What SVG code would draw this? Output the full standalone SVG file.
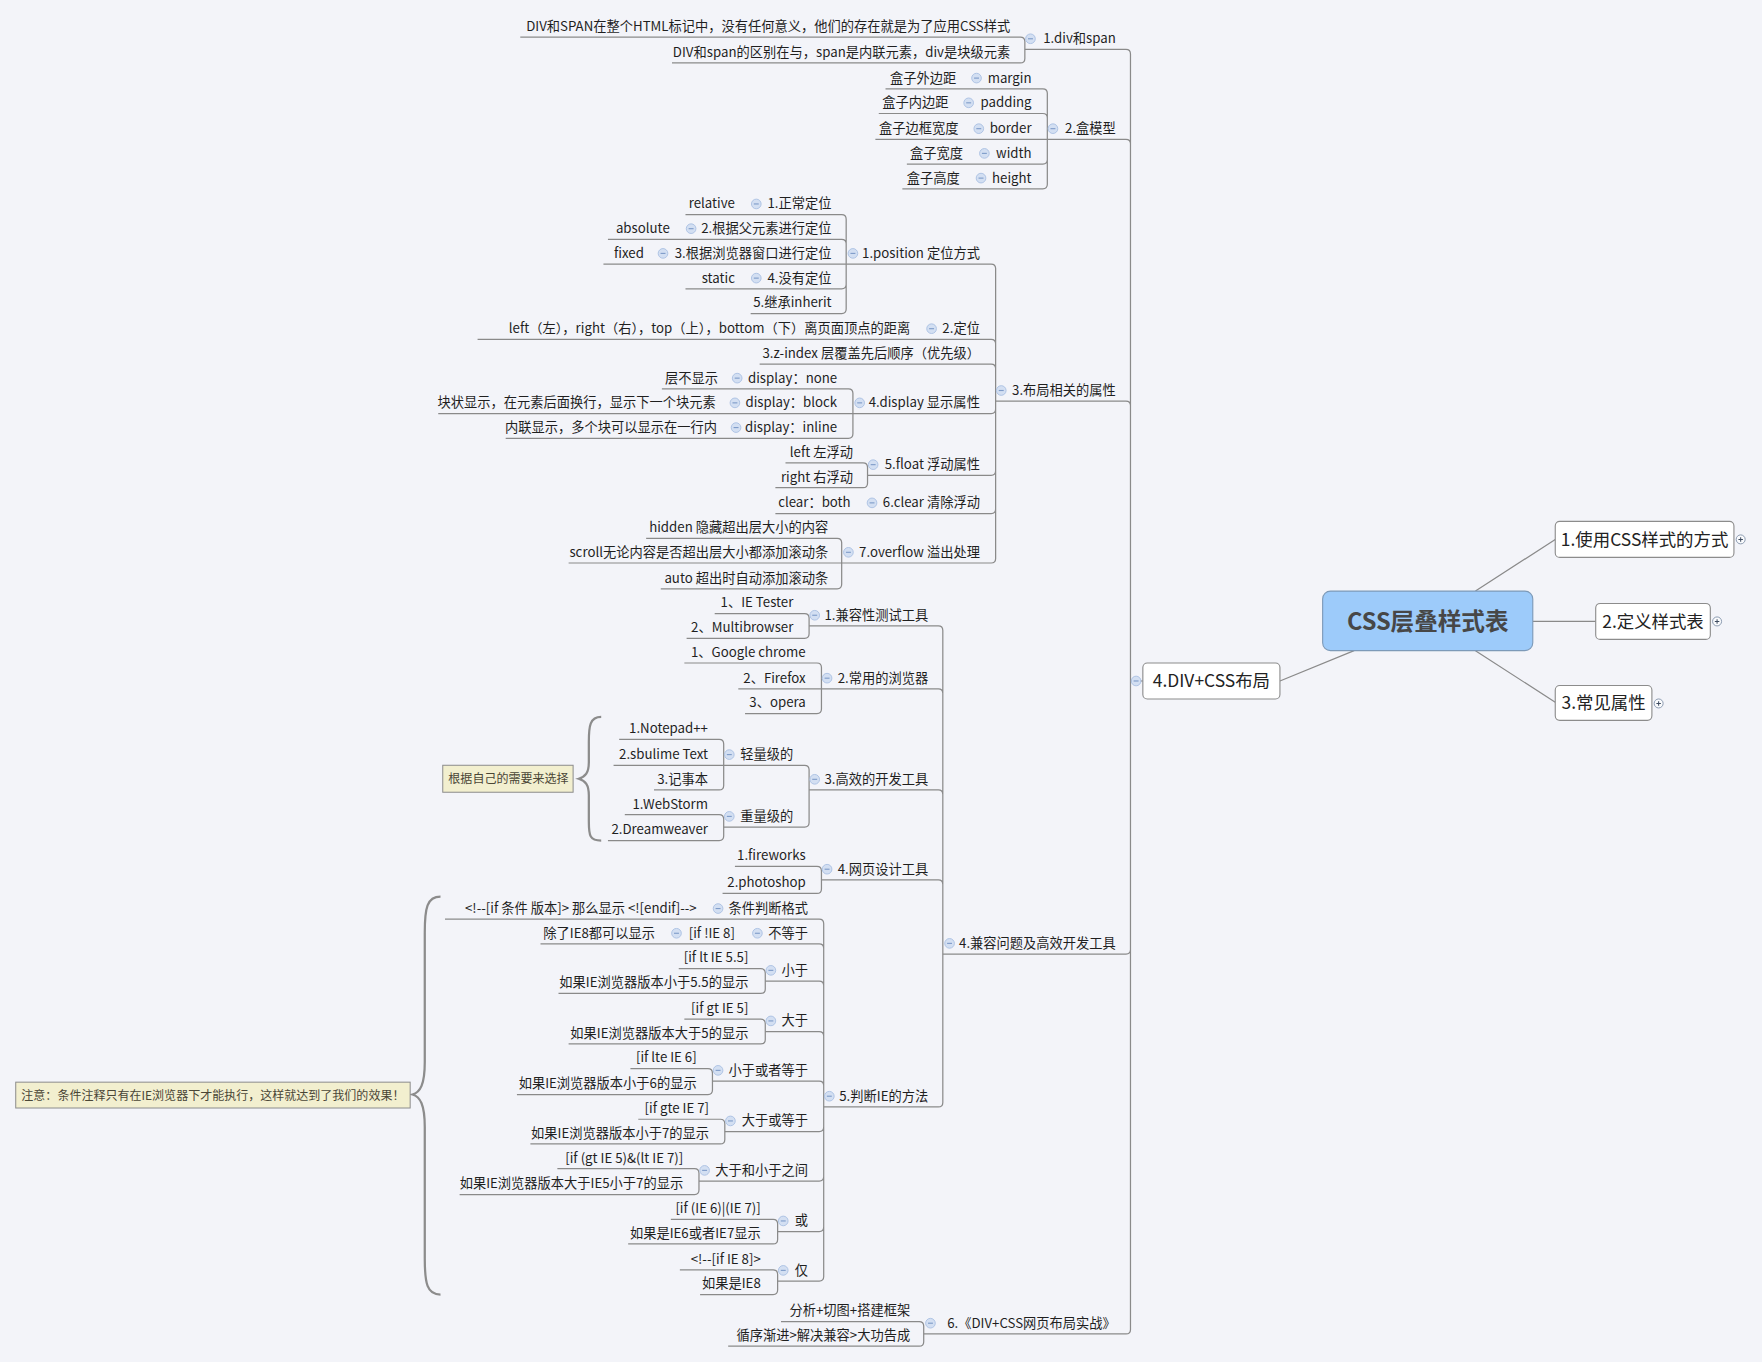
<svg xmlns="http://www.w3.org/2000/svg" xmlns:xlink="http://www.w3.org/1999/xlink" width="1762" height="1362" viewBox="0 0 1762 1362">
<style>
.c{fill:none;stroke:#8a8a8a;stroke-width:1.1}
.t{font-family:"Noto Sans CJK SC","Noto Sans",sans-serif;font-size:11.8px;fill:#1f1f1f;text-anchor:end}
.b{fill:#ffffff;stroke:#8c8c8c;stroke-width:1}
.bt{font-family:"Noto Sans CJK SC","Noto Sans",sans-serif;font-size:15.5px;fill:#222;text-anchor:middle}
.rt{font-family:"Noto Sans CJK SC","Noto Sans",sans-serif;font-size:21px;font-weight:bold;fill:#474747;text-anchor:middle}
.note{fill:#f2efcf;stroke:#8c8c8c;stroke-width:0.9}
.nt{font-family:"Noto Sans CJK SC","Noto Sans",sans-serif;font-size:10.7px;fill:#4a4636}
.brace{fill:none;stroke:#8c8c8c;stroke-width:2}
</style>
<defs>
<g id="mi"><circle r="4.3" fill="#d3dff2" stroke="#a9bfe2" stroke-width="0.8"/><path d="M-2.2 0H2.2" stroke="#7f9cc9" stroke-width="1"/></g>
<g id="pi"><circle r="4" fill="#fafbfd" stroke="#8091a8" stroke-width="0.8"/><path d="M-2 0H2M0 -2V2" stroke="#3d4b60" stroke-width="0.9"/></g>
</defs>
<rect width="1762" height="1362" fill="#f3f4f9"/>
<g transform="scale(1.12374)">
<g id="connectors">
<path class="c" d="M1313 526L1384 480M1364 553H1420M1313 579L1384 625M1205 579L1139 606"/>
<path class="c" d="M1006 606H1017"/>
<path class="c" d="M912 44H1002Q1006 44 1006 48V606M932 124H1002Q1006 124 1006 128V606M886 357H1002Q1006 357 1006 361V606M839 849H1002Q1006 849 1006 845V606M822 1187H1002Q1006 1187 1006 1183V606"/>
<path class="c" d="M463 33H908Q912 33 912 37V44M598 56H908Q912 56 912 52V44"/>
<path class="c" d="M788 79H928Q932 79 932 83V124M782 101H928Q932 101 932 105V124M779 124H932M807 146H928Q932 146 932 142V124M803 168H928Q932 168 932 164V124"/>
<path class="c" d="M753 235H882Q886 235 886 239V357M425 302H882Q886 302 886 306V357M676 324H882Q886 324 886 328V357M759 368H882Q886 368 886 364V357M772 423H882Q886 423 886 419V357M690 457H882Q886 457 886 453V357M749 501H882Q886 501 886 497V357"/>
<path class="c" d="M610 191H749Q753 191 753 195V235M541 213H749Q753 213 753 217V235M537 235H753M610 257H749Q753 257 753 253V235M668 279H749Q753 279 753 275V235"/>
<path class="c" d="M589 346H755Q759 346 759 350V368M390 368H759M450 390H755Q759 390 759 386V368"/>
<path class="c" d="M699 412H768Q772 412 772 416V423M690 434H768Q772 434 772 430V423"/>
<path class="c" d="M575 479H745Q749 479 749 483V501M506 501H749M588 524H745Q749 524 749 520V501"/>
<path class="c" d="M720 557H835Q839 557 839 561V849M731 613H835Q839 613 839 617V849M720 703H835Q839 703 839 707V849M731 783H835Q839 783 839 787V849M733 985H835Q839 985 839 981V849"/>
<path class="c" d="M636 546H716Q720 546 720 550V557M611 568H716Q720 568 720 564V557"/>
<path class="c" d="M609 590H727Q731 590 731 594V613M657 613H731M663 635H727Q731 635 731 631V613"/>
<path class="c" d="M644 681H716Q720 681 720 685V703M644 736H716Q720 736 720 732V703"/>
<path class="c" d="M551 658H640Q644 658 644 662V681M546 681H644M582 703H640Q644 703 644 699V681"/>
<path class="c" d="M556 725H640Q644 725 644 729V736M541 748H640Q644 748 644 744V736"/>
<path class="c" d="M654 771H727Q731 771 731 775V783M643 795H727Q731 795 731 791V783"/>
<path class="c" d="M396 818H729Q733 818 733 822V985M481 840H729Q733 840 733 844V985M681 873H729Q733 873 733 877V985M681 918H729Q733 918 733 922V985M634 962H729Q733 962 733 966V985M645 1007H729Q733 1007 733 1003V985M622 1051H729Q733 1051 733 1047V985M692 1096H729Q733 1096 733 1092V985M692 1140H729Q733 1140 733 1136V985"/>
<path class="c" d="M604 862H677Q681 862 681 866V873M497 884H677Q681 884 681 880V873"/>
<path class="c" d="M609 907H677Q681 907 681 911V918M506 929H677Q681 929 681 925V918"/>
<path class="c" d="M561 951H630Q634 951 634 955V962M460 974H630Q634 974 634 970V962"/>
<path class="c" d="M568 996H641Q645 996 645 1000V1007M472 1018H641Q645 1018 645 1014V1007"/>
<path class="c" d="M496 1040H618Q622 1040 622 1044V1051M409 1063H618Q622 1063 622 1059V1051"/>
<path class="c" d="M597 1085H688Q692 1085 692 1089V1096M559 1107H688Q692 1107 692 1103V1096"/>
<path class="c" d="M605 1130H688Q692 1130 692 1134V1140M623 1152H688Q692 1152 692 1148V1140"/>
<path class="c" d="M695 1176H818Q822 1176 822 1180V1187M648 1198H818Q822 1198 822 1194V1187"/>
<path class="brace" d="M535 638C525 638 524 646 524 660L524 678C524 688 521 691 515 693C521 695 524 698 524 708L524 731C524 744 525 748 535 748"/>
<path class="brace" d="M392 798C380 798 378 808 378 830L378 945C378 965 374 972 367 974C374 976 378 983 378 1003L378 1120C378 1142 380 1152 392 1152"/>
</g>

<g id="n-root"><rect x="1177" y="526" width="187" height="53" rx="7" fill="#9dcbfa" stroke="#7d9ab8" stroke-width="1"/><text class="rt" x="1270.5" y="561">CSS层叠样式表</text></g>
<g id="n1"><rect class="b" x="1384" y="464" width="159" height="32" rx="4"/><text class="bt" x="1463.5" y="485.5">1.使用CSS样式的方式</text><use xlink:href="#pi" x="1549" y="480"/></g>
<g id="n2"><rect class="b" x="1420" y="537" width="102" height="32" rx="4"/><text class="bt" x="1471" y="558.5">2.定义样式表</text><use xlink:href="#pi" x="1528" y="553"/></g>
<g id="n3"><rect class="b" x="1384" y="610" width="86" height="31" rx="4"/><text class="bt" x="1427" y="631">3.常见属性</text><use xlink:href="#pi" x="1476" y="626"/></g>
<g id="n4"><rect class="b" x="1017" y="590" width="122" height="32" rx="4"/><text class="bt" x="1078" y="611.5">4.DIV+CSS布局</text><use xlink:href="#mi" x="1011" y="606"/></g>

<g id="n4-1"><use xlink:href="#mi" x="917" y="34.5"/><text class="t" x="993" y="38.5">1.div和span</text></g>
<g id="n4-1-1"><text class="t" x="899" y="27.5">DIV和SPAN在整个HTML标记中，没有任何意义，他们的存在就是为了应用CSS样式</text></g>
<g id="n4-1-2"><text class="t" x="899" y="50.5">DIV和span的区别在与，span是内联元素，div是块级元素</text></g>

<g id="n4-2"><use xlink:href="#mi" x="937" y="114.5"/><text class="t" x="993" y="118.5">2.盒模型</text></g>
<g id="n4-2-1"><use xlink:href="#mi" x="869" y="69.5"/><text class="t" x="918" y="73.5">margin</text><text class="t" x="851" y="73.5">盒子外边距</text></g>
<g id="n4-2-2"><use xlink:href="#mi" x="862" y="91.5"/><text class="t" x="918" y="95.5">padding</text><text class="t" x="844" y="95.5">盒子内边距</text></g>
<g id="n4-2-3"><use xlink:href="#mi" x="871" y="114.5"/><text class="t" x="918" y="118.5">border</text><text class="t" x="853" y="118.5">盒子边框宽度</text></g>
<g id="n4-2-4"><use xlink:href="#mi" x="876" y="136.5"/><text class="t" x="918" y="140.5">width</text><text class="t" x="857" y="140.5">盒子宽度</text></g>
<g id="n4-2-5"><use xlink:href="#mi" x="873" y="158.5"/><text class="t" x="918" y="162.5">height</text><text class="t" x="854" y="162.5">盒子高度</text></g>

<g id="n4-3"><use xlink:href="#mi" x="891" y="347.5"/><text class="t" x="993" y="351.5">3.布局相关的属性</text></g>
<g id="n4-3-1"><use xlink:href="#mi" x="759" y="225.5"/><text class="t" x="872" y="229.5">1.position 定位方式</text></g>
<g id="n4-3-1-1"><use xlink:href="#mi" x="673" y="181.5"/><text class="t" x="740" y="185.5">1.正常定位</text><text class="t" x="654" y="185.5">relative</text></g>
<g id="n4-3-1-2"><use xlink:href="#mi" x="615" y="203.5"/><text class="t" x="740" y="207.5">2.根据父元素进行定位</text><text class="t" x="596" y="207.5">absolute</text></g>
<g id="n4-3-1-3"><use xlink:href="#mi" x="590" y="225.5"/><text class="t" x="740" y="229.5">3.根据浏览器窗口进行定位</text><text class="t" x="573" y="229.5">fixed</text></g>
<g id="n4-3-1-4"><use xlink:href="#mi" x="673" y="247.5"/><text class="t" x="740" y="251.5">4.没有定位</text><text class="t" x="654" y="251.5">static</text></g>
<g id="n4-3-1-5"><text class="t" x="740" y="273.5">5.继承inherit</text></g>
<g id="n4-3-2"><use xlink:href="#mi" x="829" y="292.5"/><text class="t" x="872" y="296.5">2.定位</text><text class="t" x="810" y="296.5">left（左），right（右），top（上），bottom（下）离页面顶点的距离</text></g>
<g id="n4-3-3"><text class="t" x="872" y="318.5">3.z-index 层覆盖先后顺序（优先级）</text></g>
<g id="n4-3-4"><use xlink:href="#mi" x="765" y="358.5"/><text class="t" x="872" y="362.5">4.display 显示属性</text></g>
<g id="n4-3-4-1"><use xlink:href="#mi" x="656" y="336.5"/><text class="t" x="745" y="340.5">display：none</text><text class="t" x="639" y="340.5">层不显示</text></g>
<g id="n4-3-4-2"><use xlink:href="#mi" x="654" y="358.5"/><text class="t" x="745" y="362.5">display：block</text><text class="t" x="637" y="362.5">块状显示，在元素后面换行，显示下一个块元素</text></g>
<g id="n4-3-4-3"><use xlink:href="#mi" x="655" y="380.5"/><text class="t" x="745" y="384.5">display：inline</text><text class="t" x="638" y="384.5">内联显示，多个块可以显示在一行内</text></g>
<g id="n4-3-5"><use xlink:href="#mi" x="777" y="413.5"/><text class="t" x="872" y="417.5">5.float 浮动属性</text></g>
<g id="n4-3-5-1"><text class="t" x="759" y="406.5">left 左浮动</text></g>
<g id="n4-3-5-2"><text class="t" x="759" y="428.5">right 右浮动</text></g>
<g id="n4-3-6"><use xlink:href="#mi" x="776" y="447.5"/><text class="t" x="872" y="451.5">6.clear 清除浮动</text><text class="t" x="757" y="451.5">clear：both</text></g>
<g id="n4-3-7"><use xlink:href="#mi" x="755" y="491.5"/><text class="t" x="872" y="495.5">7.overflow 溢出处理</text></g>
<g id="n4-3-7-1"><text class="t" x="737" y="473.5">hidden 隐藏超出层大小的内容</text></g>
<g id="n4-3-7-2"><text class="t" x="737" y="495.5">scroll无论内容是否超出层大小都添加滚动条</text></g>
<g id="n4-3-7-3"><text class="t" x="737" y="518.5">auto 超出时自动添加滚动条</text></g>

<g id="n4-4"><use xlink:href="#mi" x="845" y="839.5"/><text class="t" x="993" y="843.5">4.兼容问题及高效开发工具</text></g>
<g id="n4-4-1"><use xlink:href="#mi" x="725" y="547.5"/><text class="t" x="826" y="551.5">1.兼容性测试工具</text></g>
<g id="n4-4-1-1"><text class="t" x="706" y="540.5">1、IE Tester</text></g>
<g id="n4-4-1-2"><text class="t" x="706" y="562.5">2、Multibrowser</text></g>
<g id="n4-4-2"><use xlink:href="#mi" x="736" y="603.5"/><text class="t" x="826" y="607.5">2.常用的浏览器</text></g>
<g id="n4-4-2-1"><text class="t" x="717" y="584.5">1、Google chrome</text></g>
<g id="n4-4-2-2"><text class="t" x="717" y="607.5">2、Firefox</text></g>
<g id="n4-4-2-3"><text class="t" x="717" y="629.5">3、opera</text></g>
<g id="n4-4-3"><use xlink:href="#mi" x="725" y="693.5"/><text class="t" x="826" y="697.5">3.高效的开发工具</text></g>
<g id="n4-4-3-1"><use xlink:href="#mi" x="649" y="671.5"/><text class="t" x="706" y="675.5">轻量级的</text></g>
<g id="n4-4-3-1-1"><text class="t" x="630" y="652.5">1.Notepad++</text></g>
<g id="n4-4-3-1-2"><text class="t" x="630" y="675.5">2.sbulime Text</text></g>
<g id="n4-4-3-1-3"><text class="t" x="630" y="697.5">3.记事本</text></g>
<g id="n4-4-3-2"><use xlink:href="#mi" x="649" y="726.5"/><text class="t" x="706" y="730.5">重量级的</text></g>
<g id="n4-4-3-2-1"><text class="t" x="630" y="719.5">1.WebStorm</text></g>
<g id="n4-4-3-2-2"><text class="t" x="630" y="742.5">2.Dreamweaver</text></g>
<g id="note-1"><rect class="note" x="394" y="681" width="116" height="24"/><text class="nt" x="399" y="697">根据自己的需要来选择</text></g>
<g id="n4-4-4"><use xlink:href="#mi" x="736" y="773.5"/><text class="t" x="826" y="777.5">4.网页设计工具</text></g>
<g id="n4-4-4-1"><text class="t" x="717" y="765.5">1.fireworks</text></g>
<g id="n4-4-4-2"><text class="t" x="717" y="789.5">2.photoshop</text></g>
<g id="n4-4-5"><use xlink:href="#mi" x="738" y="975.5"/><text class="t" x="826" y="979.5">5.判断IE的方法</text></g>
<g id="n4-4-5-1"><use xlink:href="#mi" x="639" y="808.5"/><text class="t" x="719" y="812.5">条件判断格式</text><text class="t" x="620" y="812.5">&lt;!--[if 条件 版本]&gt; 那么显示 &lt;![endif]--&gt;</text></g>
<g id="n4-4-5-2"><use xlink:href="#mi" x="674" y="830.5"/><text class="t" x="719" y="834.5">不等于</text><use xlink:href="#mi" x="602" y="830.5"/><text class="t" x="654" y="834.5">[if !IE 8]</text><text class="t" x="583" y="834.5">除了IE8都可以显示</text></g>
<g id="n4-4-5-3"><use xlink:href="#mi" x="686" y="863.5"/><text class="t" x="719" y="867.5">小于</text><text class="t" x="666" y="856.5">[if lt IE 5.5]</text><text class="t" x="666" y="878.5">如果IE浏览器版本小于5.5的显示</text></g>
<g id="n4-4-5-4"><use xlink:href="#mi" x="686" y="908.5"/><text class="t" x="719" y="912.5">大于</text><text class="t" x="666" y="901.5">[if gt IE 5]</text><text class="t" x="666" y="923.5">如果IE浏览器版本大于5的显示</text></g>
<g id="n4-4-5-5"><use xlink:href="#mi" x="639" y="952.5"/><text class="t" x="719" y="956.5">小于或者等于</text><text class="t" x="620" y="945.5">[if lte IE 6]</text><text class="t" x="620" y="968.5">如果IE浏览器版本小于6的显示</text></g>
<g id="n4-4-5-6"><use xlink:href="#mi" x="650" y="997.5"/><text class="t" x="719" y="1001.5">大于或等于</text><text class="t" x="631" y="990.5">[if gte IE 7]</text><text class="t" x="631" y="1012.5">如果IE浏览器版本小于7的显示</text></g>
<g id="n4-4-5-7"><use xlink:href="#mi" x="627" y="1041.5"/><text class="t" x="719" y="1045.5">大于和小于之间</text><text class="t" x="608" y="1034.5">[if (gt IE 5)&amp;(lt IE 7)]</text><text class="t" x="608" y="1057.5">如果IE浏览器版本大于IE5小于7的显示</text></g>
<g id="n4-4-5-8"><use xlink:href="#mi" x="697" y="1086.5"/><text class="t" x="719" y="1090.5">或</text><text class="t" x="677" y="1079.5">[if (IE 6)|(IE 7)]</text><text class="t" x="677" y="1101.5">如果是IE6或者IE7显示</text></g>
<g id="n4-4-5-9"><use xlink:href="#mi" x="697" y="1130.5"/><text class="t" x="719" y="1134.5">仅</text><text class="t" x="677" y="1124.5">&lt;!--[if IE 8]&gt;</text><text class="t" x="677" y="1146.5">如果是IE8</text></g>
<g id="note-2"><rect class="note" x="14" y="963" width="351" height="23"/><text class="nt" x="19" y="978.5">注意：条件注释只有在IE浏览器下才能执行，这样就达到了我们的效果！</text></g>

<g id="n4-6"><use xlink:href="#mi" x="828" y="1177.5"/><text class="t" x="993" y="1181.5">6.《DIV+CSS网页布局实战》</text></g>
<g id="n4-6-1"><text class="t" x="810" y="1170.5">分析+切图+搭建框架</text></g>
<g id="n4-6-2"><text class="t" x="810" y="1192.5">循序渐进&gt;解决兼容&gt;大功告成</text></g>
</g>
</svg>
